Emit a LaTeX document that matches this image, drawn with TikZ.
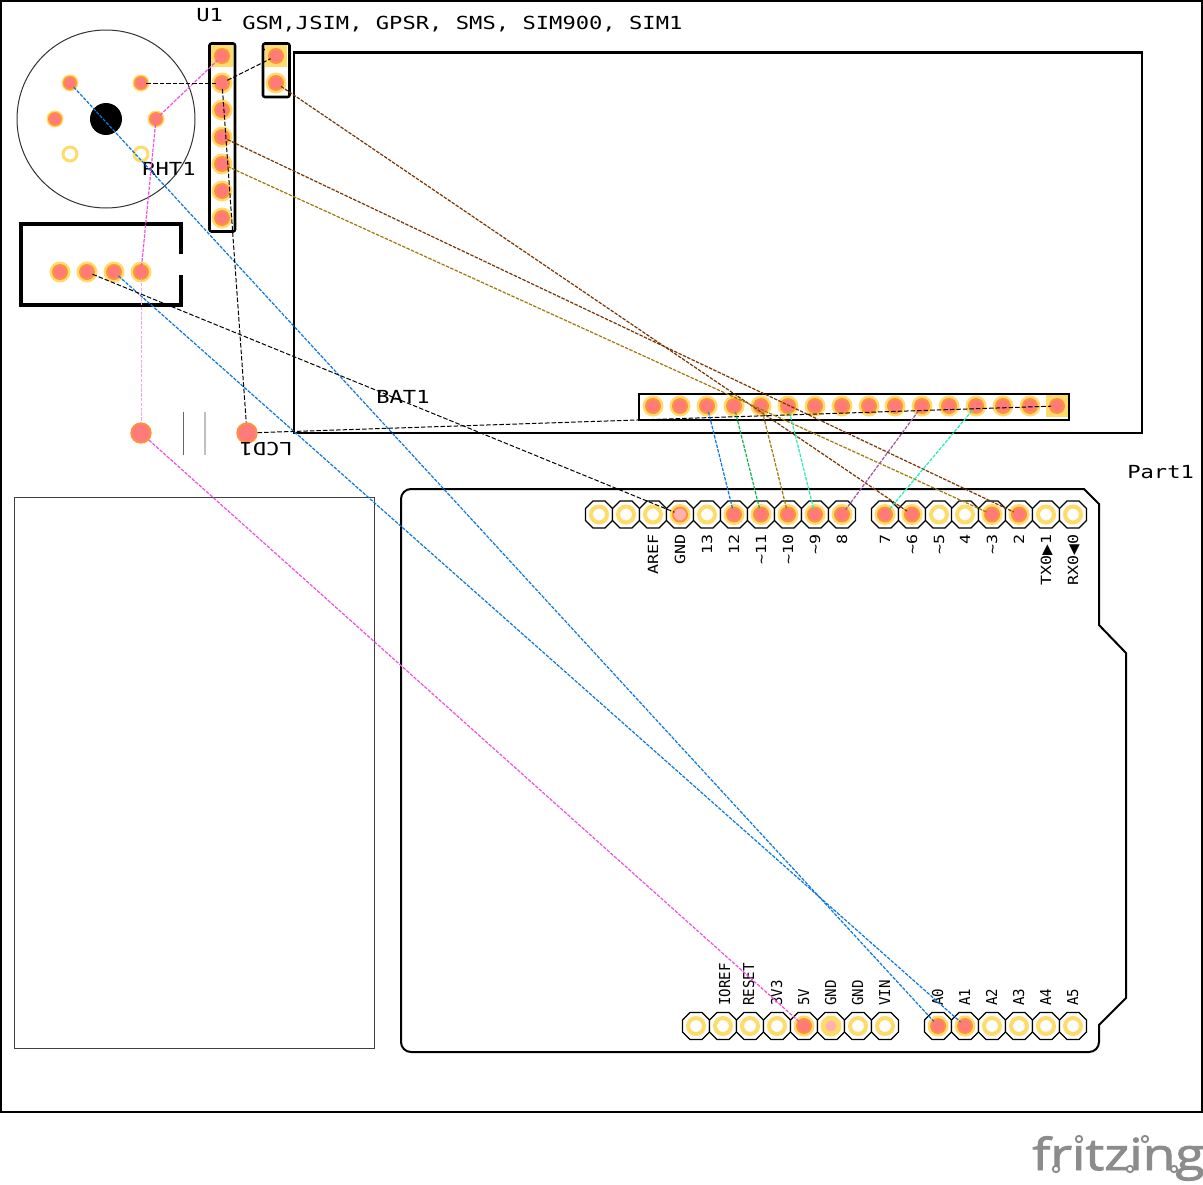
\documentclass[tikz,border=0pt]{standalone}
\usepackage{fontspec}
\newfontfamily\bigmono[FakeStretch=1.23]{DejaVu Sans Mono}
\newfontfamily\topmono[FakeStretch=1.19]{DejaVu Sans Mono}
\newfontfamily\botmono[FakeStretch=0.94]{DejaVu Sans Mono}
\newfontfamily\symfont{DejaVu Sans}
\newfontfamily\logofont[FakeStretch=1.21,FakeBold=2.2]{Open Sans}
\definecolor{padY}{HTML}{FFDB69}
\definecolor{padO}{HTML}{FF9040}
\definecolor{padP}{HTML}{FF7A7A}
\definecolor{padL}{HTML}{FFB0B0}
\definecolor{wBlue}{HTML}{0A78E0}
\definecolor{wMag}{HTML}{F050E0}
\definecolor{wBrown}{HTML}{7A3500}
\definecolor{wOlive}{HTML}{A07808}
\definecolor{wGreen}{HTML}{10B050}
\definecolor{wCyan}{HTML}{20F0B0}
\definecolor{wPurple}{HTML}{A050A0}
\definecolor{logoG}{HTML}{8C8C8C}
\tikzset{
  padnode/.style={circle,fill=padP,inner sep=0pt,minimum size=8.6pt},
  smallnode/.style={circle,fill=padP,inner sep=0pt,minimum size=7.8pt},
  bignode/.style={circle,fill=padP,draw=padO,line width=1.5pt,inner sep=0pt,minimum size=14.5pt},
  wire/.style={line width=.9pt,dash pattern=on 2.6pt off 1pt},
  bwire/.style={line width=.75pt,dash pattern=on 3.4pt off 1.5pt,black},
  part/.style={draw=black,line width=1.9pt,rounded corners=1.5pt},
  octo/.style={draw=black,fill=white,line width=.85pt},
  silk/.style={font=\bigmono\fontsize{13.5}{13.5}\selectfont,inner sep=0pt,text=black},
  toplab/.style={font=\topmono\fontsize{10.5}{10.5}\selectfont,inner sep=0pt,rotate=90,anchor=base east,text=black},
  botlab/.style={font=\botmono\fontsize{11.25}{11.25}\selectfont,inner sep=0pt,rotate=90,anchor=base west,text=black},
  logoring/.style={draw=logoG,fill=white,line width=1.4pt},
}
\newcommand\padd[3]{\fill[padY] (#2,#3) circle (10.5);\fill[padO] (#2,#3) circle (8);\node[padnode] (#1) at (#2,#3) {};}
\newcommand\spad[3]{\fill[padY] (#2-11,#3-11) rectangle (#2+11,#3+11);\fill[padO] (#2,#3) circle (8);\node[padnode] (#1) at (#2,#3) {};}
\newcommand\sens[3]{\fill[padY] (#2,#3) circle (8.5);\fill[padO] (#2,#3) circle (7);\node[smallnode] (#1) at (#2,#3) {};}
\newcommand\ringpad[2]{\draw[padY,line width=3pt] (#1,#2) circle (8);}
\newcommand\oct[2]{\draw[octo,shift={(#1,#2)}] (-13.5,-6)--(-6,-13.5)--(6,-13.5)--(13.5,-6)--(13.5,6)--(6,13.5)--(-6,13.5)--(-13.5,6)--cycle;}
\newcommand\tld{\textasciitilde}
\begin{document}
\begin{tikzpicture}[x=.75pt,y=-.75pt]
\useasboundingbox (0,0) rectangle (1203,1185);
\fill[white] (0,0) rectangle (1203,1185);
% board
\draw[black,line width=1.9pt] (1,1) rectangle (1202,1112);
% sensor
\draw[black!80,line width=.75pt] (106,119) circle (89);
\fill[black] (106,119) circle (16);
\sens{s1}{70}{83}\sens{s2}{141}{83}\sens{s3}{55}{119}\sens{s4}{156}{119}
\draw[padY,line width=2.2pt] (70,154) circle (7);
\draw[padY,line width=2.2pt] (141,154) circle (7);
% headers
\draw[part] (209.5,43.5) rectangle (235,231.5);
\draw[black,line width=.75pt] (211,50)--(218,44);
\spad{h1}{222}{56}
\padd{h2}{222}{83}\padd{h3}{222}{110}\padd{h4}{222}{137}\padd{h5}{222}{164}\padd{h6}{222}{191}\padd{h7}{222}{218}
\draw[part] (263,43.5) rectangle (289.5,97);
\draw[black,line width=.75pt] (264,50)--(271,44);
\spad{g1}{276}{56}
\padd{g2}{276}{83}
% module
\draw[black,line width=1.7pt] (294,52.5) rectangle (1142,433);
\draw[part,rounded corners=0pt] (639,394) rectangle (1069,420);
\padd{b1}{653}{406}\padd{b2}{680}{406}\padd{b3}{707}{406}\padd{b4}{734}{406}
\padd{b5}{761}{406}\padd{b6}{788}{406}\padd{b7}{815}{406}\padd{b8}{842}{406}
\padd{b9}{869}{406}\padd{b10}{895}{406}\padd{b11}{922}{406}\padd{b12}{949}{406}
\padd{b13}{976}{406}\padd{b14}{1003}{406}\padd{b15}{1030}{406}
\spad{b16}{1057}{406}
% RHT box
\draw[black,line width=2.6pt] (181,254)--(181,224)--(21,224)--(21,305)--(181,305)--(181,275);
\padd{r1}{60}{272}\padd{r2}{87}{272}\padd{r3}{114}{272}\padd{r4}{141}{272}
% LCD pads
\draw[black!60,line width=.75pt] (183.5,412)--(183.5,455);
\draw[black!25,line width=.9pt] (205,412)--(205,455);
\node[bignode] (l1) at (141,433) {};
\node[bignode] (l2) at (247,433) {};
\draw[black!75,line width=.75pt] (14,497.5) rectangle (374.5,1048.5);
% Arduino
\draw[black,line width=1.5pt,rounded corners=0pt]
  (411,489)--(1084,489)--(1099,504)--(1099,625)--(1126,653)--(1126,998)--(1099,1025)--(1099,1042)
  arc[start angle=0,end angle=90,radius=10]--(411,1052)
  arc[start angle=90,end angle=180,radius=10]--(401,499)
  arc[start angle=180,end angle=270,radius=10]--cycle;
\foreach \x in {599,626,653,680,707,734,761,788,815,842,885,912,939,965,992,1019,1046,1073}{\oct{\x}{514.5}\ringpad{\x}{514.5}}
\foreach \x in {696,723,750,777,804,831,858,885,938,965,992,1019,1046,1073}{\oct{\x}{1026}\ringpad{\x}{1026}}
\fill[white] (680,514.5) circle (10.5);
\padd{aGnd}{680}{514.5}
\fill[padL] (680,514.5) circle (6);
\padd{a12}{734}{514.5}\padd{a11}{761}{514.5}\padd{a10}{788}{514.5}\padd{a9}{815}{514.5}\padd{a8}{842}{514.5}
\padd{a7}{885}{514.5}\padd{a6}{912}{514.5}\padd{a3}{992}{514.5}\padd{a2}{1019}{514.5}
\padd{a5V}{804}{1026}\padd{aA0}{938}{1026}\padd{aA1}{965}{1026}
\fill[padY] (831,1026) circle (10.5);
\node[circle,fill=padL,inner sep=0pt,minimum size=8pt] (aGndB) at (831,1026) {};
% top labels
\node[toplab] (tAREF) at (658,534) {AREF};
\node[toplab] (tGND) at (685,534) {GND};
\node[toplab] (t13) at (712,534) {13};
\node[toplab] (t12) at (739,534) {12};
\node[toplab] (t11) at (766,534) {\tld11};
\node[toplab] (t10) at (793,534) {\tld10};
\node[toplab] (t9) at (820,534) {\tld9};
\node[toplab] (t8) at (847,534) {8};
\node[toplab] (t7) at (890,534) {7};
\node[toplab] (t6) at (917,534) {\tld6};
\node[toplab] (t5) at (944,534) {\tld5};
\node[toplab] (t4) at (970,534) {4};
\node[toplab] (t3) at (997,534) {\tld3};
\node[toplab] (t2) at (1024,534) {2};
\node[toplab] (t1) at (1051,534) {TX0{\symfont ▶}1};
\node[toplab] (t0) at (1078,534) {RX0{\symfont ◀}0};
% bottom labels
\node[botlab] (bIOREF) at (730,1006) {IOREF};
\node[botlab] (bRESET) at (754,1006) {RESET};
\node[botlab] (b3V3) at (782,1006) {3V3};
\node[botlab] (b5V) at (809,1006) {5V};
\node[botlab] (bGND1) at (836,1006) {GND};
\node[botlab] (bGND2) at (863,1006) {GND};
\node[botlab] (bVIN) at (890,1006) {VIN};
\node[botlab] (bA0) at (943,1006) {A0};
\node[botlab] (bA1) at (970,1006) {A1};
\node[botlab] (bA2) at (997,1006) {A2};
\node[botlab] (bA3) at (1024,1006) {A3};
\node[botlab] (bA4) at (1051,1006) {A4};
\node[botlab] (bA5) at (1078,1006) {A5};
% silk labels
\node[silk,anchor=base west] (lU) at (196,21.5) {U1};
\node[silk,anchor=base west] (lG) at (242,29.5) {GSM,J};
\node[silk,anchor=base west] (lS) at (309,29.5) {SIM, GPSR, SMS, SIM900, SIM1};
\node[silk,anchor=base west] (lR) at (142,175) {RHT1};
\node[silk,anchor=base west] (lB) at (376,403) {BAT1};
\node[silk,anchor=base west] (lP) at (1127,478) {Part1};
\node[silk,anchor=base west,rotate=180] (lL) at (293,442) {LCD1};
% wires
\draw[wire,wBlue] (s1)--(aA0);
\draw[wire,wBlue] (r3)--(aA1);
\draw[wire,wMag] (s4)--(h1);
\draw[wire,wMag] (s4)--(r4);
\draw[wire,wMag!55,line width=.6pt] (r4)--(l1);
\draw[wire,wMag] (l1)--(a5V);
\draw[bwire] (s2)--(h2);
\draw[bwire] (h2)--(g1);
\draw[bwire] (h2)--(l2);
\draw[bwire] (r2)--(aGnd);
\draw[bwire] (l2)--(b16);
\draw[wire,wBrown] (g2)--(a6);
\draw[wire,wBrown] (h4)--(a2);
\draw[wire,wOlive] (h5)--(a3);
\draw[wire,wBlue] (b3)--(a12);
\draw[wire,wGreen] (b4)--(a11);
\draw[wire,wOlive] (b5)--(a10);
\draw[wire,wCyan] (b6)--(a9);
\draw[wire,wPurple] (b11)--(a8);
\draw[wire,wCyan] (b13)--(a7);
% logo
\node[anchor=base west,inner sep=0pt,text=logoG,font=\logofont\fontsize{33}{33}\selectfont] (logo) at (1032,1170) {fritzing};
\foreach \x/\y in {1079/1139,1145/1139,1056/1169,1130/1169,1174/1169}{\draw[logoring] (\x,\y) circle (3.2);}
\end{tikzpicture}
\end{document}
